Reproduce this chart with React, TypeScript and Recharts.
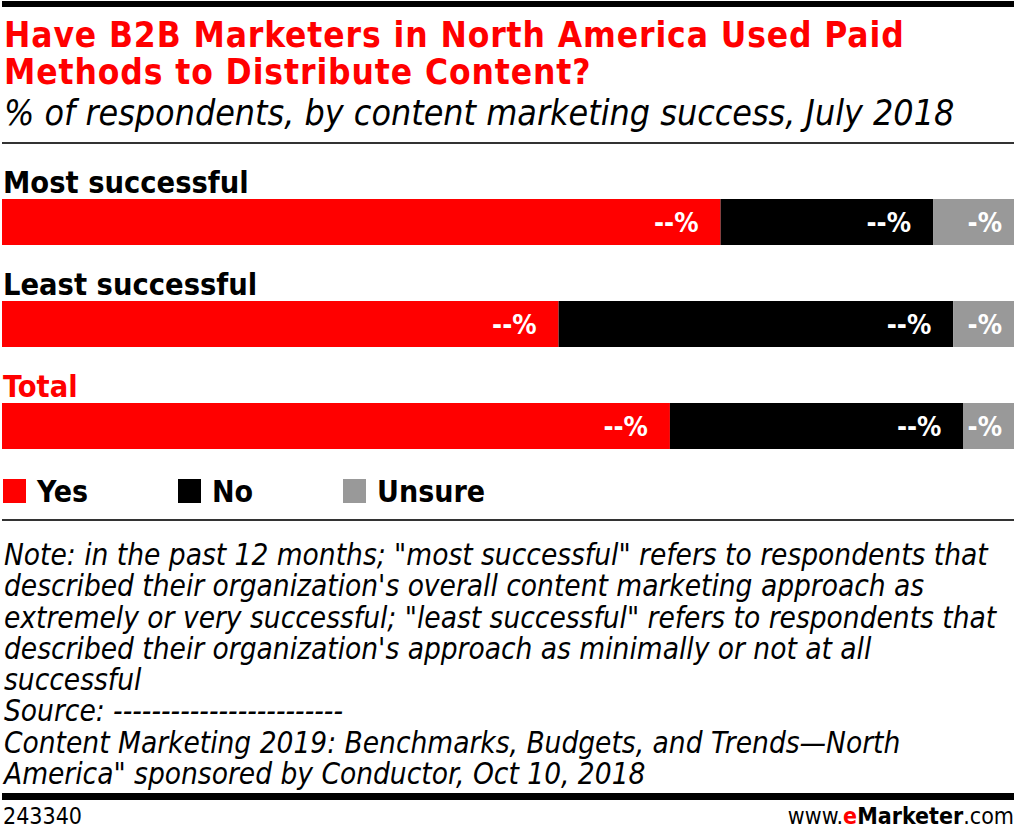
import React from 'react';
import { Bar, BarChart, LabelList, Legend, XAxis, YAxis } from 'recharts';

// segments of each bar, % of respondents
const groups = ['Most successful', 'Least successful', 'Total'];
const yes = [71, 55, 66];
const no = [21, 39, 29];
const unsure = [8, 6, 5];

const seriesNames = ['Yes', 'No', 'Unsure'];
const seriesColors = ['#ff0000', '#000000', '#999999'];

const noteLines = [
  'Note: in the past 12 months; "most successful" refers to respondents that',
  "described their organization's overall content marketing approach as",
  'extremely or very successful; "least successful" refers to respondents that',
  "described their organization's approach as minimally or not at all",
  'successful',
  'Source: ------------------------',
  'Content Marketing 2019: Benchmarks, Budgets, and Trends\u2014North',
  'America" sponsored by Conductor, Oct 10, 2018',
];

const data = groups.map((name, i) => ({ name, yes: yes[i], no: no[i], unsure: unsure[i] }));

const FONT = '"DejaVu Sans Condensed", "DejaVu Sans", sans-serif';

// values are masked in the source chart, one dash per digit
const masked = (v: any) => '-'.repeat(String(Math.round(Number(v))).length) + '%';

// group name drawn above its bar
const GroupLabel = (props: any) => {
  const { x, y, value } = props;
  return (
    <text
      x={x + 1}
      y={y - 6}
      fontFamily={FONT}
      fontWeight="bold"
      fontSize={30.5}
      fill={value === 'Total' ? '#ff0000' : '#000'}
    >
      {value}
    </text>
  );
};

const LegendRow = () => (
  <div style={{ display: 'flex', fontFamily: FONT, fontWeight: 'bold', fontSize: 30, height: 44 }}>
    {seriesNames.map((n, i) => (
      <div key={n} style={{ display: 'flex', alignItems: 'center', width: i === 0 ? 175 : 165, height: 28 }}>
        <span style={{ width: 23, height: 24, background: seriesColors[i], display: 'inline-block', marginRight: 11 }} />
        <span>{n}</span>
      </div>
    ))}
  </div>
);

const valueLabel = { fill: '#fff', fontFamily: FONT, fontSize: 27, fontWeight: 'bold' as const };

export default function App() {
  const rule = (top: number, h: number, color = '#000') => (
    <div style={{ position: 'absolute', left: 2, width: 1012, top, height: h, background: color }} />
  );
  const titleStyle = {
    position: 'absolute' as const,
    left: 4,
    fontFamily: FONT,
    fontWeight: 'bold' as const,
    fontSize: 35,
    lineHeight: '36px',
    letterSpacing: 0.9,
    color: '#ff0000',
    whiteSpace: 'nowrap' as const,
  };
  return (
    <div style={{ position: 'absolute', left: 0, top: 0, width: 1016, height: 828, background: '#fff', overflow: 'hidden' }}>
      {rule(1, 6)}
      <div style={{ ...titleStyle, top: 17 }}>Have B2B Marketers in North America Used Paid</div>
      <div style={{ ...titleStyle, top: 54 }}>Methods to Distribute Content?</div>
      <div style={{ position: 'absolute', left: 4, top: 95, fontFamily: FONT, fontStyle: 'italic', fontSize: 35.5, lineHeight: '36px', color: '#000' }}>
        % of respondents, by content marketing success, July 2018
      </div>
      {rule(142, 2, '#333')}

      <div style={{ position: 'absolute', left: 0, top: 150 }}>
        <BarChart
          width={1016}
          height={371}
          data={data}
          layout="vertical"
          margin={{ top: 21, right: 2, bottom: 0, left: 2 }}
          barCategoryGap={56}
        >
          <XAxis type="number" domain={[0, 100]} hide />
          <YAxis type="category" dataKey="name" hide />
          <Bar dataKey="yes" name="Yes" stackId="a" fill={seriesColors[0]} barSize={46} isAnimationActive={false}>
            <LabelList dataKey="name" content={<GroupLabel />} />
            <LabelList dataKey="yes" position="insideRight" offset={22} formatter={masked} {...valueLabel} />
          </Bar>
          <Bar dataKey="no" name="No" stackId="a" fill={seriesColors[1]} barSize={46} isAnimationActive={false}>
            <LabelList dataKey="no" position="insideRight" offset={22} formatter={masked} {...valueLabel} />
          </Bar>
          <Bar dataKey="unsure" name="Unsure" stackId="a" fill={seriesColors[2]} barSize={46} isAnimationActive={false}>
            <LabelList dataKey="unsure" position="insideRight" offset={12} formatter={masked} {...valueLabel} />
          </Bar>
          <Legend verticalAlign="bottom" align="left" content={<LegendRow />} wrapperStyle={{ left: 3 }} />
        </BarChart>
      </div>

      {rule(519, 2, '#333')}
      <div style={{ position: 'absolute', left: 4, top: 540, fontFamily: FONT, fontStyle: 'italic', fontSize: 29.5, lineHeight: '31.3px', color: '#000' }}>
        {noteLines.map((l) => (
          <div key={l}>{l}</div>
        ))}
      </div>
      {rule(793, 7)}
      <div style={{ position: 'absolute', left: 3, top: 804, fontFamily: FONT, fontSize: 23, lineHeight: '24px', color: '#000' }}>
        243340
      </div>
      <div style={{ position: 'absolute', right: 2, top: 804, fontFamily: FONT, fontSize: 23, lineHeight: '24px', color: '#000' }}>
        www.<span style={{ color: '#ff0000', fontWeight: 'bold' }}>e</span>
        <span style={{ fontWeight: 'bold' }}>Marketer</span>.com
      </div>
    </div>
  );
}
